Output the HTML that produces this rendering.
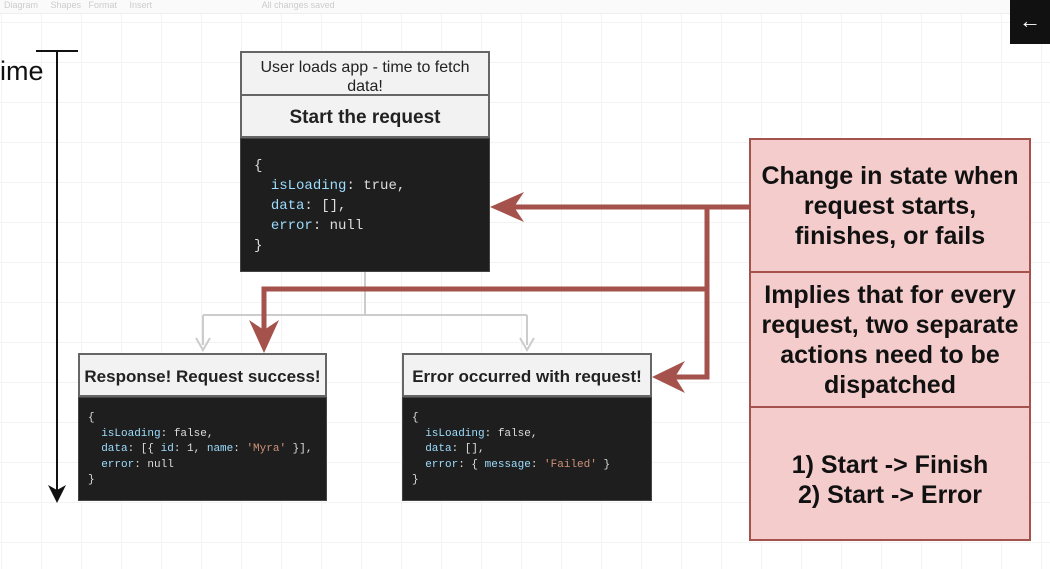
<!DOCTYPE html>
<html><head><style>
body{margin:0;width:1050px;height:569px;overflow:hidden;background:#fff;position:relative;font-family:"Liberation Sans",sans-serif;
background-image:linear-gradient(#f3f3f3 1px,transparent 1px),linear-gradient(90deg,#f3f3f3 1px,transparent 1px);background-size:40px 40px;background-position:1px 22px}
.abs{position:absolute;box-sizing:border-box}
.hdr{background:#f2f2f2;border:2px solid #666;text-align:center;color:#222}
.code{background:#1e1e1e;font-family:"Liberation Mono","DejaVu Sans Mono",monospace;color:#ddd;white-space:pre;border:1px solid #444}
.k{color:#9cdcfe}.s{color:#ce9178}
.red{background:#f4cccc;border:2px solid #a5514c;text-align:center;font-weight:bold;color:#111;font-size:25px;display:flex;align-items:center;justify-content:center;line-height:30px}
</style></head><body>
<div class="abs" style="left:0;top:0;width:1050px;height:14px;background:#fafafa;border-bottom:1px solid #eee;font-size:9px;color:#ccc;padding-left:4px">Diagram &nbsp;&nbsp;&nbsp; Shapes &nbsp; Format &nbsp;&nbsp;&nbsp; Insert &nbsp;&nbsp;&nbsp;&nbsp;&nbsp;&nbsp;&nbsp;&nbsp;&nbsp;&nbsp;&nbsp;&nbsp;&nbsp;&nbsp;&nbsp;&nbsp;&nbsp;&nbsp;&nbsp;&nbsp;&nbsp;&nbsp;&nbsp;&nbsp;&nbsp;&nbsp;&nbsp;&nbsp;&nbsp;&nbsp;&nbsp;&nbsp;&nbsp;&nbsp;&nbsp;&nbsp;&nbsp;&nbsp;&nbsp;&nbsp;&nbsp;&nbsp; All changes saved</div>
<div class="abs" style="left:1010px;top:0;width:40px;height:44px;background:#111;color:#fff;font-size:22px;text-align:center;line-height:42px">←</div>
<div class="abs" style="left:0;top:56px;font-size:27px;color:#111">ime</div>
<svg class="abs" style="left:0;top:0" width="1050" height="569">
<line x1="36" y1="51" x2="78" y2="51" stroke="#111" stroke-width="2"/>
<line x1="57" y1="51" x2="57" y2="495" stroke="#111" stroke-width="2"/>
<polygon points="48,485 57,503 66,485 57,490" fill="#111"/>
<g stroke="#ccc" stroke-width="2" fill="none">
<path d="M365 271V315M203 315H527M203 315V345M527 315V345"/>
<path d="M196 338L203 350L210 338M520 338L527 350L534 338"/>
</g>
<g stroke="#a5514c" stroke-width="5" fill="none">
<path d="M749 207H510M707 207V377H672M707 289H264V330"/>
</g>
<g fill="#a5514c">
<polygon points="490,207 524,192 514,207 524,222"/>
<polygon points="652,377 685,361 675,377 685,393"/>
<polygon points="264,353 249,320 264,330 279,320"/>
</g>
</svg>
<div class="abs hdr" style="left:240px;top:51px;width:250px;height:45px;font-size:16px;line-height:19px;padding-top:5px">User loads app - time to fetch data!</div>
<div class="abs hdr" style="left:240px;top:94px;width:250px;height:44px;font-size:19px;font-weight:bold;line-height:44px">Start the request</div>
<div class="abs code" style="left:240px;top:138px;width:250px;height:134px;font-size:14px;line-height:20px;padding:17px 0 0 13px">{
  <span class="k">isLoading</span>: true,
  <span class="k">data</span>: [],
  <span class="k">error</span>: null
}</div>
<div class="abs hdr" style="left:78px;top:353px;width:249px;height:44px;font-size:17px;font-weight:bold;line-height:44px">Response! Request success!</div>
<div class="abs code" style="left:78px;top:397px;width:249px;height:104px;font-size:11px;line-height:15.5px;padding:13px 0 0 9px">{
  <span class="k">isLoading</span>: false,
  <span class="k">data</span>: [{ <span class="k">id</span>: 1, <span class="k">name</span>: <span class="s">'Myra'</span> }],
  <span class="k">error</span>: null
}</div>
<div class="abs hdr" style="left:402px;top:353px;width:250px;height:44px;font-size:17px;font-weight:bold;line-height:44px">Error occurred with request!</div>
<div class="abs code" style="left:402px;top:397px;width:250px;height:104px;font-size:11px;line-height:15.5px;padding:13px 0 0 9px">{
  <span class="k">isLoading</span>: false,
  <span class="k">data</span>: [],
  <span class="k">error</span>: { <span class="k">message</span>: <span class="s">'Failed'</span> }
}</div>
<div class="abs red" style="left:749px;top:138px;width:282px;height:135px">Change in state when<br>request starts,<br>finishes, or fails</div>
<div class="abs red" style="left:749px;top:271px;width:282px;height:137px">Implies that for every<br>request, two separate<br>actions need to be<br>dispatched</div>
<div class="abs red" style="left:749px;top:406px;width:282px;height:135px;padding-top:12px">1) Start -&gt; Finish<br>2) Start -&gt; Error</div>
</body></html>
